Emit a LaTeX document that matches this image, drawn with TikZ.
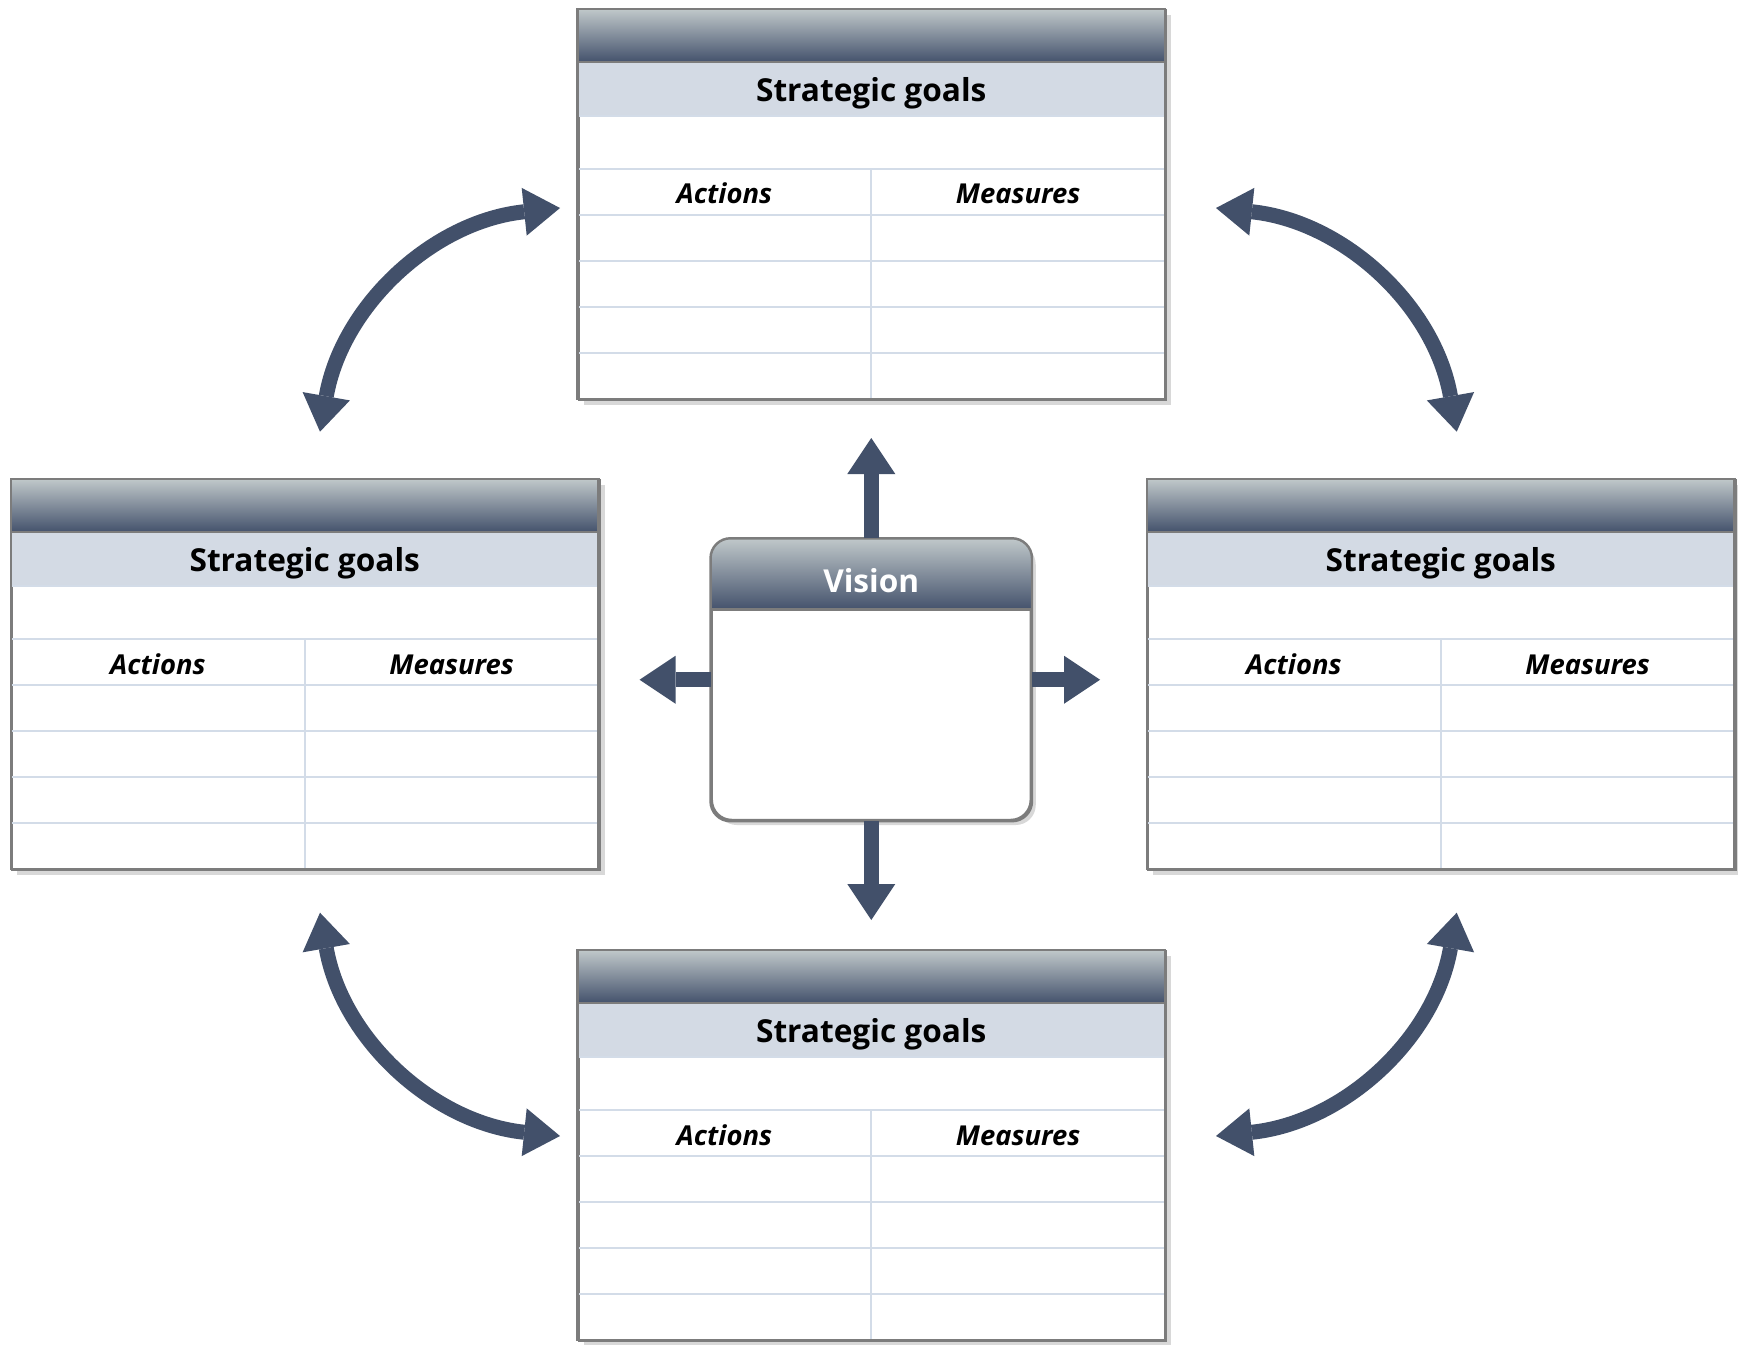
\documentclass[tikz,border=0pt]{standalone}
\usepackage{fontspec}
\setmainfont{Open Sans}
\usetikzlibrary{arrows.meta,shadows,calc}

\definecolor{slate}{HTML}{42506A}
\definecolor{headtop}{HTML}{C0C8CA}
\definecolor{headbot}{HTML}{44526C}
\definecolor{band}{HTML}{D3DAE4}
\definecolor{rulecol}{HTML}{D3DCE8}
\definecolor{frame}{HTML}{7C7C7C}

\tikzset{
  goalbox/.style={draw=frame, line width=0.7pt, fill=white, inner sep=0pt,
    minimum width=5.875cm, minimum height=3.9cm, anchor=north west,
    drop shadow={shadow xshift=0.05cm, shadow yshift=-0.05cm, opacity=0.3}},
  visionbox/.style={draw=frame, line width=0.7pt, fill=white, inner sep=0pt,
    rounded corners=0.2cm, minimum width=3.19cm, minimum height=2.805cm,
    drop shadow={shadow xshift=0.05cm, shadow yshift=-0.05cm, opacity=0.3}},
  goaltitle/.style={font=\bfseries\fontsize{9}{11}\selectfont, inner sep=0pt},
  colhead/.style={font=\bfseries\itshape\fontsize{7.8}{10}\selectfont, inner sep=0pt, anchor=base},
  gridline/.style={draw=rulecol, line width=0.6pt},
  headtip/.tip={Triangle[length=0.36cm, width=0.48cm, line width=0pt]},
  fatarrow/.style={draw=slate, line width=0.15cm, -{headtip}},
  twoway/.style={draw=slate, line width=0.15cm, {headtip}-{headtip}}
}

\begin{document}
\begin{tikzpicture}
  \fill[white] (0,0) rectangle (17.38,13.44);
  \useasboundingbox (0,0) rectangle (17.38,13.44);

  % ---- the four goal tables ----
  \foreach \n/\x/\y in {goalsN/5.775/13.35, goalsW/0.11/8.65, goalsE/11.47/8.65, goalsS/5.775/3.94} {
    \begin{scope}[shift={(\x,\y)}]
      \node[goalbox] (\n) at (0,0) {};
      \shade[top color=headtop, bottom color=headbot] (0,0) rectangle (5.875,-0.53);
      \fill[band] (0,-0.53) rectangle (5.875,-1.07);
      \foreach \r in {-1.07,-1.60,-2.06,-2.52,-2.98,-3.44}
        \draw[gridline] (0,\r) -- (5.875,\r);
      \draw[gridline] (2.9375,-1.60) -- (2.9375,-3.90);
      \draw[frame, line width=0.7pt] (0,-0.53) -- (5.875,-0.53);
      \node[goaltitle] (\n-title) at (2.9375,-0.84) {Strategic goals};
      \node[colhead] (\n-act) at (1.469,-1.95) {Actions};
      \node[colhead] (\n-mea) at (4.406,-1.95) {Measures};
      \draw[frame, line width=0.7pt] (0,0) rectangle (5.875,-3.9);
    \end{scope}
  }

  % ---- vision in the middle ----
  \node[visionbox] (vision) at (8.7125,6.6425) {};
  \begin{scope}
    \clip[rounded corners=0.2cm] (vision.south west) rectangle (vision.north east);
    \shade[top color=headtop, bottom color=headbot]
      (vision.north west) rectangle ($(vision.north east)+(0,-0.712)$);
  \end{scope}
  \draw[frame, line width=0.7pt] ($(vision.north west)+(0,-0.712)$) -- ($(vision.north east)+(0,-0.712)$);
  \draw[frame, line width=0.7pt, rounded corners=0.2cm] (vision.south west) rectangle (vision.north east);
  \node[goaltitle, text=white] (vision-title) at ($(vision.north)+(0,-0.42)$) {Vision};

  % ---- arrows out of the vision ----
  \coordinate (upTip) at (8.7125,9.06);
  \coordinate (downTip) at (8.7125,4.24);
  \coordinate (leftTip) at (6.395,6.6425);
  \coordinate (rightTip) at (11.00,6.6425);
  \draw[fatarrow] (vision.north) -- (upTip);
  \draw[fatarrow] (vision.south) -- (downTip);
  \draw[fatarrow] (vision.west) -- (leftTip);
  \draw[fatarrow] (vision.east) -- (rightTip);

  % ---- curved arrows between neighbouring tables ----
  \coordinate (nwLow) at (3.20,9.123);  \coordinate (nwHigh) at (5.60,11.36);
  \coordinate (neHigh) at (12.16,11.36); \coordinate (neLow) at (14.567,9.123);
  \coordinate (swHigh) at (3.20,4.313); \coordinate (swLow) at (5.60,2.08);
  \coordinate (seHigh) at (14.567,4.313); \coordinate (seLow) at (12.16,2.08);
  \draw[twoway] (nwLow) to[out=80, in=186] (nwHigh);
  \draw[twoway] (neHigh) to[out=-6, in=100] (neLow);
  \draw[twoway] (swHigh) to[out=-80, in=174] (swLow);
  \draw[twoway] (seHigh) to[out=260, in=6] (seLow);
\end{tikzpicture}
\end{document}
